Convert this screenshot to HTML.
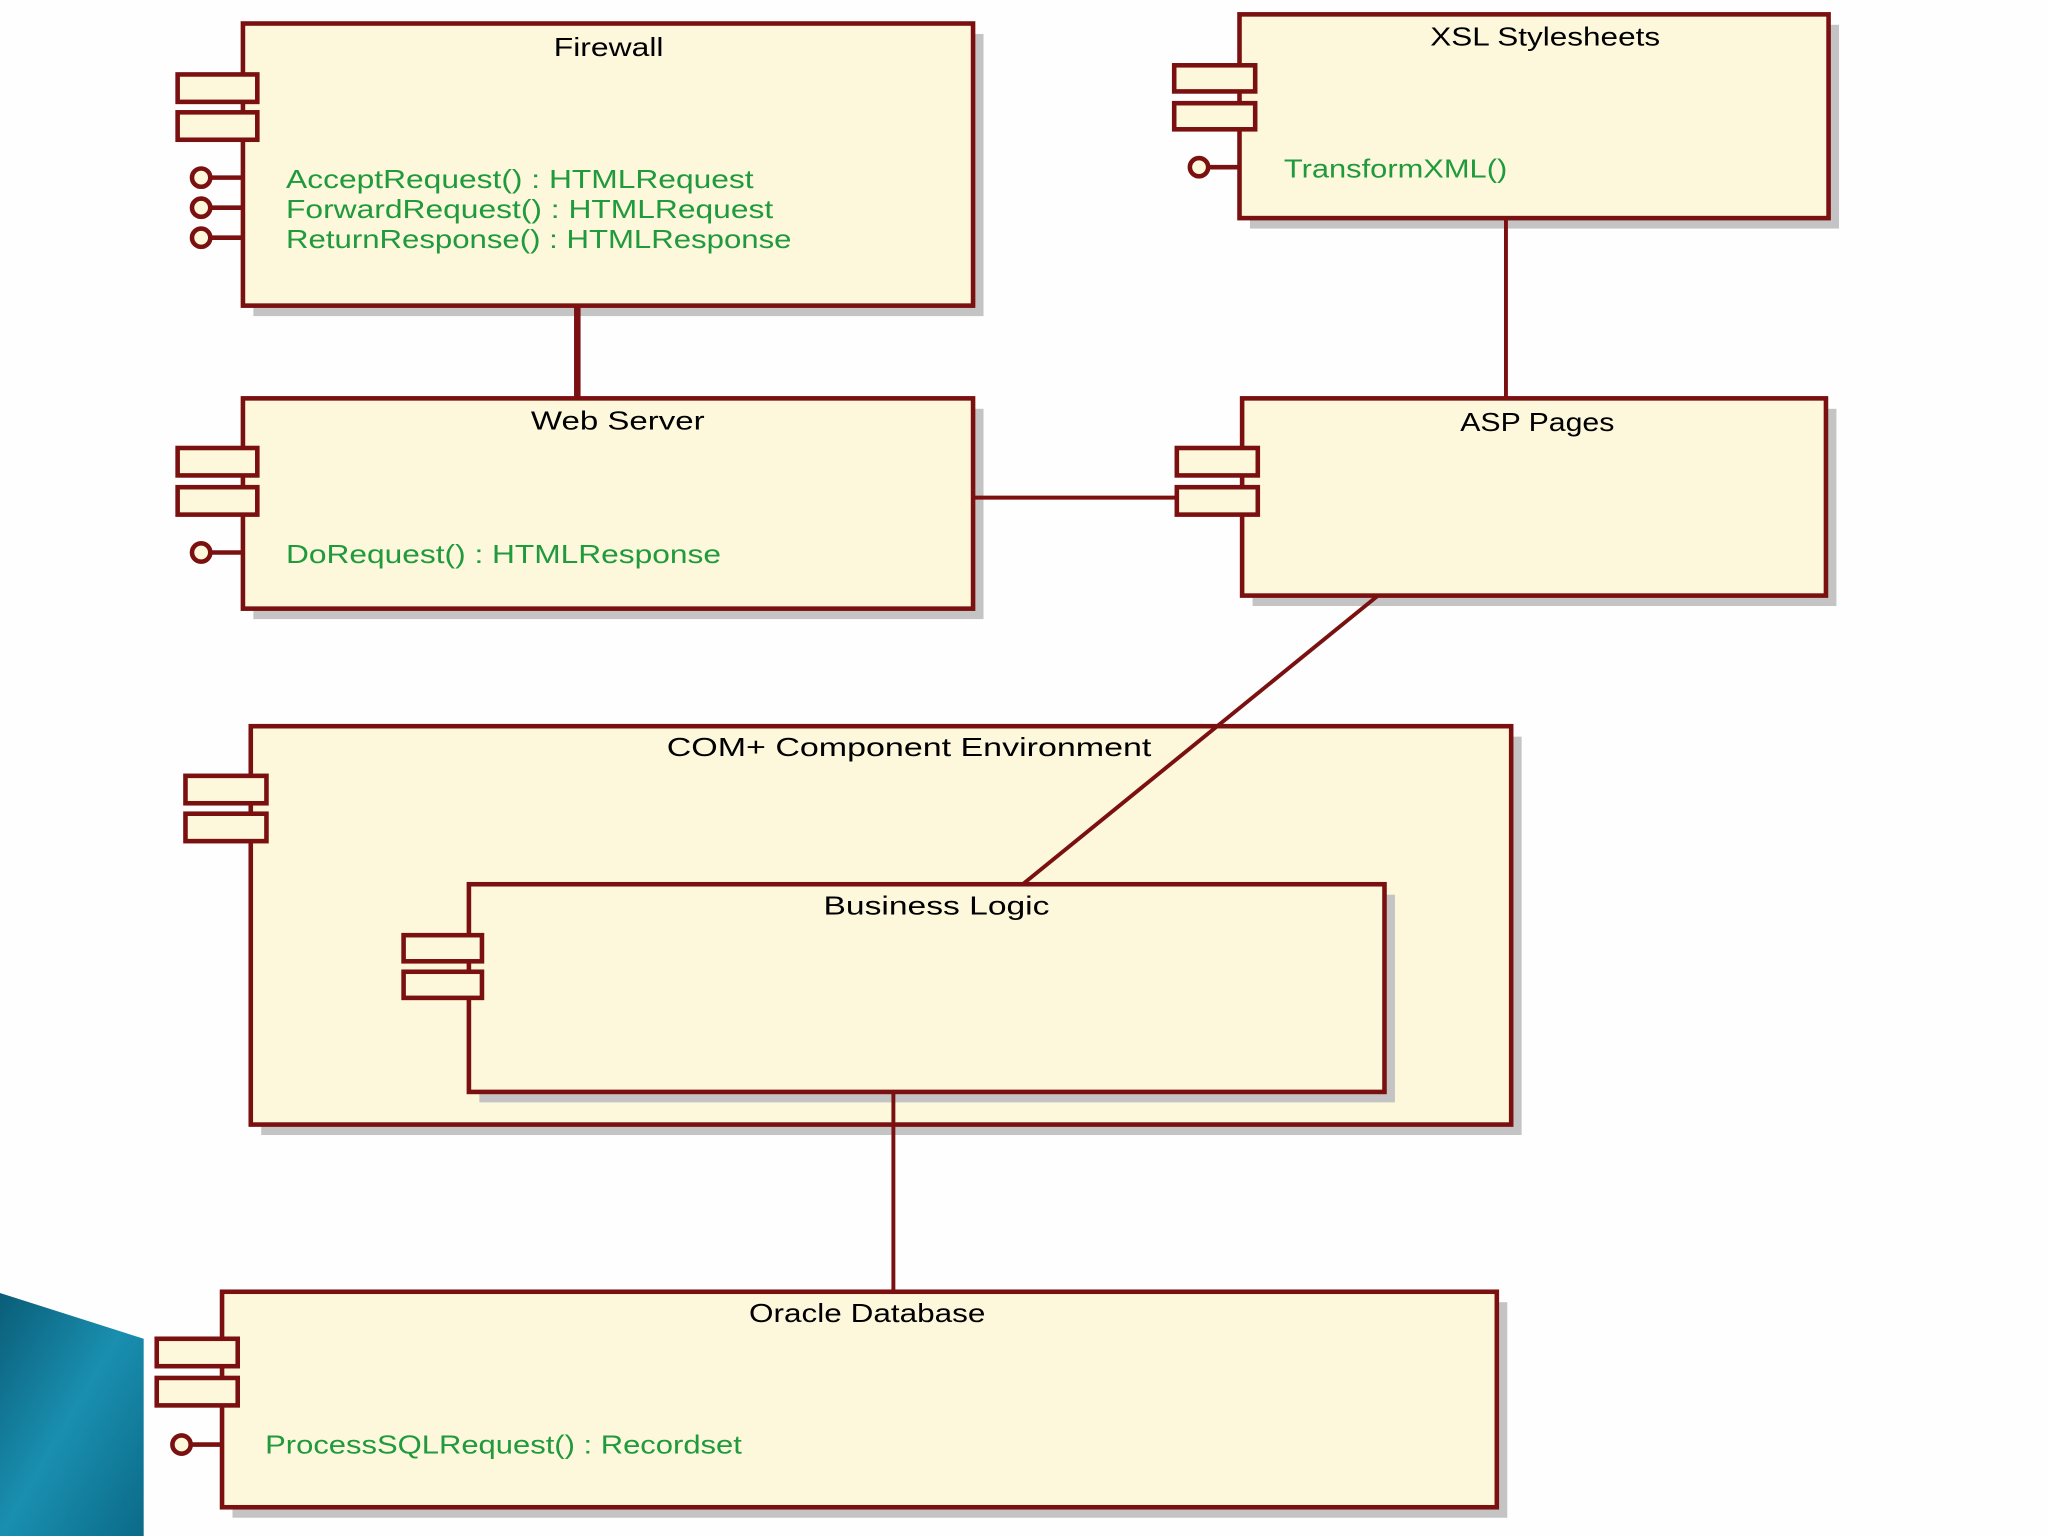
<!DOCTYPE html>
<html><head><meta charset="utf-8"><style>
html,body{margin:0;padding:0;background:#fff;}
svg{display:block;}
text{font-family:"Liberation Sans",sans-serif;font-size:20px;}
.t{fill:#000;text-anchor:middle;}
.g{fill:#1f9a3c;}
</style></head><body>
<svg width="2048" height="1536" viewBox="0 0 1568 1176" preserveAspectRatio="none" xmlns="http://www.w3.org/2000/svg">
<defs>
<linearGradient id="tl" x1="0" y1="0" x2="1" y2="1">
<stop offset="0" stop-color="#0a5d78"/><stop offset="0.5" stop-color="#1a8fb0"/><stop offset="1" stop-color="#0b6a88"/>
</linearGradient>
</defs>
<rect width="1568" height="1176" fill="#fefefe"/>
<polygon points="0,990 110,1025 110,1176 0,1176" fill="url(#tl)"/>
<g fill="#c4c4c4">
<rect x="194" y="26" width="559" height="216"/>
<rect x="957" y="19" width="451" height="156"/>
<rect x="194" y="313" width="559" height="161"/>
<rect x="959" y="313" width="447" height="151"/>
<rect x="200" y="564" width="965" height="305"/>
<rect x="178" y="997" width="976" height="165"/>
</g>
<g stroke="#7a1010" stroke-width="3.5" fill="#fdf7db">
<rect x="186" y="18" width="559" height="216"/>
<rect x="949" y="11" width="451" height="156"/>
<rect x="186" y="305" width="559" height="161"/>
<rect x="951" y="305" width="447" height="151"/>
<rect x="192" y="556" width="965" height="305"/>
</g>
<rect x="367" y="685" width="701" height="159" fill="#c4c4c4"/>
<g stroke="#7a1010" stroke-width="3.5" fill="#fdf7db">
<rect x="359" y="677" width="701" height="159"/>
<rect x="170" y="989" width="976" height="165"/>
</g>
<g stroke="#7a1010" fill="none">
<line x1="442" y1="234" x2="442" y2="305" stroke-width="5"/>
<line x1="1153" y1="167" x2="1153" y2="305" stroke-width="3"/>
<line x1="745" y1="381" x2="901" y2="381" stroke-width="3"/>
<line x1="1055" y1="456" x2="783" y2="677" stroke-width="3"/>
<line x1="684" y1="836" x2="684" y2="989" stroke-width="3"/>
</g>
<g stroke="#7a1010" stroke-width="3.5" fill="#fdf7db">
<rect x="136" y="57" width="61" height="21"/><rect x="136" y="86" width="61" height="21"/>
<rect x="899" y="50" width="62" height="20"/><rect x="899" y="79" width="62" height="20"/>
<rect x="136" y="343" width="61" height="21"/><rect x="136" y="373" width="61" height="21"/>
<rect x="901" y="343" width="62" height="21"/><rect x="901" y="373" width="62" height="21"/>
<rect x="142" y="594" width="62" height="21"/><rect x="142" y="623" width="62" height="21"/>
<rect x="309" y="716" width="60" height="20"/><rect x="309" y="744" width="60" height="20"/>
<rect x="120" y="1025" width="62" height="21"/><rect x="120" y="1055" width="62" height="21"/>
</g>
<g stroke="#7a1010" stroke-width="3.5" fill="#fdf7db">
<line x1="162" y1="136" x2="186" y2="136"/><circle cx="154" cy="136" r="7"/>
<line x1="162" y1="159" x2="186" y2="159"/><circle cx="154" cy="159" r="7"/>
<line x1="162" y1="182" x2="186" y2="182"/><circle cx="154" cy="182" r="7"/>
<line x1="926" y1="128" x2="949" y2="128"/><circle cx="918" cy="128" r="7"/>
<line x1="162" y1="423" x2="186" y2="423"/><circle cx="154" cy="423" r="7"/>
<line x1="147" y1="1106" x2="170" y2="1106"/><circle cx="139" cy="1106" r="7"/>
</g>
<text class="t" x="466" y="43" textLength="84" lengthAdjust="spacingAndGlyphs">Firewall</text>
<text class="t" x="1183" y="35" textLength="176" lengthAdjust="spacingAndGlyphs">XSL Stylesheets</text>
<text class="t" x="473" y="329" textLength="133" lengthAdjust="spacingAndGlyphs">Web Server</text>
<text class="t" x="1177" y="330" textLength="118" lengthAdjust="spacingAndGlyphs">ASP Pages</text>
<text class="t" x="696" y="579" textLength="371" lengthAdjust="spacingAndGlyphs">COM+ Component Environment</text>
<text class="t" x="717" y="700" textLength="173" lengthAdjust="spacingAndGlyphs">Business Logic</text>
<text class="t" x="664" y="1012" textLength="181" lengthAdjust="spacingAndGlyphs">Oracle Database</text>
<text class="g" x="219" y="144" textLength="358" lengthAdjust="spacingAndGlyphs">AcceptRequest() : HTMLRequest</text>
<text class="g" x="219" y="167" textLength="373" lengthAdjust="spacingAndGlyphs">ForwardRequest() : HTMLRequest</text>
<text class="g" x="219" y="190" textLength="387" lengthAdjust="spacingAndGlyphs">ReturnResponse() : HTMLResponse</text>
<text class="g" x="983" y="136" textLength="171" lengthAdjust="spacingAndGlyphs">TransformXML()</text>
<text class="g" x="219" y="431" textLength="333" lengthAdjust="spacingAndGlyphs">DoRequest() : HTMLResponse</text>
<text class="g" x="203" y="1113" textLength="365" lengthAdjust="spacingAndGlyphs">ProcessSQLRequest() : Recordset</text>
</svg>
</body></html>
